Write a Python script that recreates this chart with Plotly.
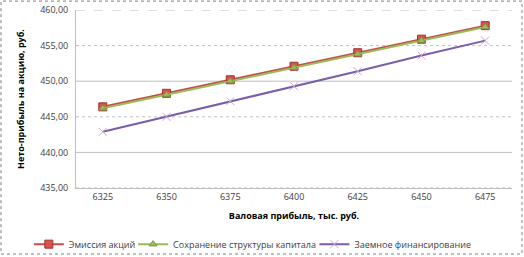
import plotly.graph_objects as go

categories = ["6325", "6350", "6375", "6400", "6425", "6450", "6475"]
emission = [446.4, 448.3, 450.2, 452.1, 454.0, 455.9, 457.8]
structure = [446.2, 448.1, 450.0, 451.9, 453.8, 455.7, 457.6]
debt = [442.9, 445.0, 447.2, 449.3, 451.4, 453.6, 455.7]
y_ticks = [435, 440, 445, 450, 455, 460]
y_labels = ["435,00", "440,00", "445,00", "450,00", "455,00", "460,00"]

font = "Open Sans"
fig = go.Figure()
fig.add_trace(go.Scatter(x=categories, y=emission, name="Эмиссия акций", mode="lines+markers",
                         legend="legend",
                         line=dict(color="#C0504D", width=2),
                         marker=dict(symbol="square", size=8, color="#D9534F", line=dict(color="#A03030", width=1))))
fig.add_trace(go.Scatter(x=categories, y=structure, name="Сохранение структуры капитала", mode="lines+markers",
                         legend="legend2",
                         line=dict(color="#9BBB59", width=2),
                         marker=dict(symbol="triangle-up", size=7, color="#9BBB59", line=dict(color="#7A9A40", width=1))))
fig.add_trace(go.Scatter(x=categories, y=debt, name="Заемное финансирование", mode="lines+markers",
                         legend="legend3",
                         line=dict(color="#7B5EA7", width=2),
                         marker=dict(symbol="x-thin", size=8, color="#C9A6D9", line=dict(color="#C9A6D9", width=1))))

# gridlines with mixed styles like the reference
styles = {435: "dot", 440: "solid", 445: "dot", 450: "solid", 455: "dot", 460: "dash"}
for v in y_ticks:
    fig.add_shape(type="line", xref="paper", yref="y", x0=0, x1=1, y0=v, y1=v,
                  line=dict(color="#BFBFBF", width=1, dash=styles[v]), layer="below")

# dotted outer frame
fig.add_shape(type="rect", xref="paper", yref="paper", x0=-0.172, x1=1.023, y0=-0.371, y1=1.05,
              line=dict(color="#808080", width=1, dash="dot"))

def leg(x):
    return dict(orientation="h", xref="container", yref="container", x=x, xanchor="left",
                y=0.05, yanchor="middle", font=dict(size=9, color="#404040"),
                itemwidth=30, bgcolor="rgba(0,0,0,0)")

fig.update_layout(
    width=524, height=257, margin=dict(l=76, r=12, t=10, b=69, autoexpand=False),
    paper_bgcolor="white", plot_bgcolor="white",
    font=dict(family=font, size=9, color="#404040"),
    showlegend=True,
    legend=leg(0.055),
    legend2=leg(0.254),
    legend3=leg(0.6),
    xaxis=dict(type="category", showgrid=False, showline=True, linecolor="#BFBFBF",
               ticks="", tickfont=dict(size=9),
               title=dict(text="<b>Валовая прибыль, тыс. руб.</b>", font=dict(size=9, color="#000000"), standoff=10)),
    yaxis=dict(range=[435, 460], tickvals=y_ticks, ticktext=y_labels, showgrid=False,
               showline=True, linecolor="#BFBFBF", zeroline=False, tickfont=dict(size=9),
               ticklabelstandoff=5,
               title=dict(text="<b>Нето-прибыль на акцию, руб.</b>", font=dict(size=9, color="#000000"), standoff=13)),
)
fig.write_html("out.html")
